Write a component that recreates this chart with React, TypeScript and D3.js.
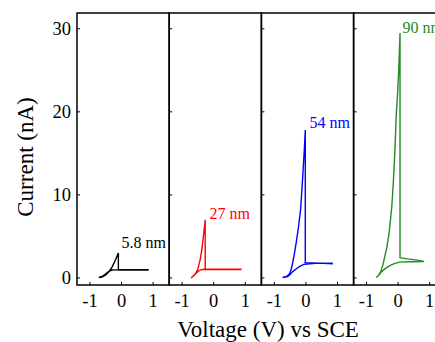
import React from "react";
import * as d3 from "d3";

// cyclic voltammograms, [voltage (V vs SCE), current (nA)]
const cv58nm: [number, number][] = [
  [-0.72, 0.05], [-0.6, 0.2], [-0.5, 0.5], [-0.4, 0.8], [-0.3, 0.95], [-0.1, 1.0],
  [0.4, 1.0], [0.84, 1.0], [0.84, 0.95], [0.3, 0.95], [-0.1, 0.95], [-0.1, 3.0],
  [-0.2, 2.1], [-0.3, 1.3], [-0.4, 0.75], [-0.5, 0.35], [-0.62, 0.1], [-0.72, 0.05],
];
const cv27nm: [number, number][] = [
  [-0.72, 0.0], [-0.62, 0.35], [-0.52, 0.7], [-0.43, 0.95], [-0.3, 1.05], [0.2, 1.05],
  [0.86, 1.05], [0.86, 1.0], [0.2, 1.0], [-0.27, 1.0], [-0.27, 7.0], [-0.31, 5.6],
  [-0.34, 4.6], [-0.38, 3.3], [-0.43, 2.2], [-0.5, 1.1], [-0.59, 0.4], [-0.72, 0.0],
];
const cv54nm: [number, number][] = [
  [-0.74, 0.05], [-0.58, 0.15], [-0.5, 0.4], [-0.42, 0.76], [-0.3, 1.1], [-0.21, 1.36],
  [-0.05, 1.65], [0.3, 1.75], [0.83, 1.78], [0.83, 1.72], [0.4, 1.78], [-0.02, 1.85],
  [-0.02, 17.8], [-0.05, 15.5], [-0.07, 14.2], [-0.12, 11], [-0.17, 8.2], [-0.24, 6],
  [-0.31, 4.2], [-0.37, 2.8], [-0.42, 1.8], [-0.47, 1.0], [-0.52, 0.5], [-0.6, 0.2],
  [-0.74, 0.05],
];
const cv90nm: [number, number][] = [
  [-0.7, 0.05], [-0.62, 0.3], [-0.52, 0.76], [-0.4, 1.15], [-0.25, 1.5], [-0.1, 1.75],
  [0.06, 1.9], [0.4, 1.95], [0.8, 1.97], [0.8, 2.0], [0.6, 2.15], [0.3, 2.3],
  [0.06, 2.45], [0.06, 29.5], [0.02, 25], [-0.02, 22], [-0.06, 19.6], [-0.1, 15.5],
  [-0.15, 11.6], [-0.2, 8.6], [-0.28, 5.6], [-0.35, 3.8], [-0.41, 2.8], [-0.48, 1.6],
  [-0.55, 0.76], [-0.62, 0.3], [-0.7, 0.05],
];

const panelNames = ["5.8 nm", "27 nm", "54 nm", "90 nm"];
const panelCurves = [cv58nm, cv27nm, cv54nm, cv90nm];
const panelColors = ["#000000", "#ff0000", "#0000ff", "#228b22"];
// where each size label sits, in data units
const labelPos: [number, number][] = [[0.0, 3.65], [-0.13, 7.1], [0.11, 18.0], [0.14, 29.5]];

const xTicks = [-1, 0, 1];
const yTicks = [0, 10, 20, 30];

const font = "'Liberation Serif', 'Times New Roman', serif";

export default function App() {
  const width = 435;
  const height = 342;
  const top = 13;
  const bottom = 285;
  const left = 77;
  const panelW = 92.2;

  const panel = d3
    .scaleBand<string>()
    .domain(panelNames)
    .range([left, left + panelW * panelNames.length])
    .paddingInner(0);

  const y = d3.scaleLinear().domain([-0.85, 31.9]).range([bottom, top]);
  const x = d3.scaleLinear().domain([-1.41, 1.51]).range([0, panel.bandwidth()]);

  const line = d3
    .line<[number, number]>()
    .x((d) => x(d[0]))
    .y((d) => y(d[1]));

  return (
    <svg
      width={width}
      height={height}
      style={{ position: "absolute", left: 0, top: 0, background: "#fff", fontFamily: font }}
    >
      {panelNames.map((name, i) => {
        const x0 = panel(name)!;
        return (
          <g key={name} transform={`translate(${x0},0)`}>
            <path d={line(panelCurves[i]) ?? ""} fill="none" stroke={panelColors[i]} strokeWidth={1.4} />
            <text
              x={x(labelPos[i][0])}
              y={y(labelPos[i][1])}
              fontSize={16}
              fontFamily={font}
              fill={panelColors[i]}
            >
              {name}
            </text>
            {yTicks.map((t) => (
              <line key={t} x1={0} x2={3} y1={y(t)} y2={y(t)} stroke="#000" strokeWidth={1} />
            ))}
            {xTicks.map((t) => (
              <g key={t}>
                <line x1={x(t)} x2={x(t)} y1={bottom} y2={bottom - 3} stroke="#000" strokeWidth={1} />
                <text x={x(t)} y={307} fontSize={18.5} fontFamily={font} textAnchor="middle">
                  {t < 0 ? `-${Math.abs(t)}` : t}
                </text>
              </g>
            ))}
            <rect
              x={0}
              y={top}
              width={panel.bandwidth()}
              height={bottom - top}
              fill="none"
              stroke="#000"
              strokeWidth={1.5}
            />
          </g>
        );
      })}
      {yTicks.map((t) => (
        <text
          key={t}
          x={71}
          y={y(t)}
          fontSize={18.5}
          fontFamily={font}
          textAnchor="end"
          dominantBaseline="central"
        >
          {t}
        </text>
      ))}
      <text transform={`translate(33,157) rotate(-90)`} fontSize={23} fontFamily={font} textAnchor="middle">
        Current (nA)
      </text>
      <text x={268} y={337} fontSize={23} fontFamily={font} textAnchor="middle">
        Voltage (V) vs SCE
      </text>
    </svg>
  );
}
